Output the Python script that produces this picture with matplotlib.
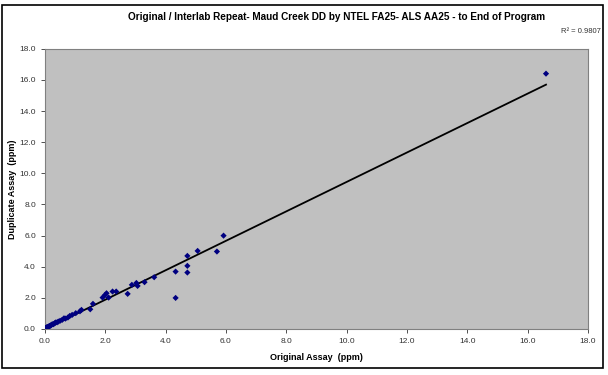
import numpy as np
import matplotlib
matplotlib.use('Agg')
import matplotlib.pyplot as plt
from matplotlib.patches import Rectangle
from matplotlib.ticker import FormatStrFormatter, MultipleLocator

plt.rcParams['font.family'] = ['Liberation Sans', 'DejaVu Sans']

# original vs duplicate assays (ppm)
original = [0.02, 0.03, 0.05, 0.06, 0.08, 0.10, 0.12, 0.15, 0.18, 0.20, 0.24,
            0.28, 0.32, 0.35, 0.40, 0.44, 0.50, 0.57, 0.63, 0.68, 0.76, 0.82,
            0.90, 1.02, 1.16, 1.21, 1.50, 1.59, 1.91, 1.98, 2.04, 2.11, 2.24,
            2.36, 2.74, 2.88, 3.03, 3.07, 3.30, 3.62, 4.33, 4.33, 4.72, 4.72,
            4.72, 5.06, 5.70, 5.92, 16.61]
duplicate = [0.03, 0.05, 0.08, 0.10, 0.11, 0.12, 0.15, 0.19, 0.20, 0.24, 0.30,
             0.30, 0.36, 0.41, 0.42, 0.47, 0.52, 0.58, 0.68, 0.66, 0.73, 0.83,
             0.90, 1.01, 1.13, 1.22, 1.26, 1.61, 2.01, 2.16, 2.29, 2.01, 2.40,
             2.40, 2.25, 2.83, 2.95, 2.76, 3.00, 3.32, 3.68, 1.99, 4.69, 4.05,
             3.62, 5.01, 4.97, 5.99, 16.40]
r2_label = "R² = 0.9807"

x = np.array(original)
y = np.array(duplicate)
slope, intercept = np.polyfit(x, y, 1)
xf = np.array([x.min(), x.max()])

fig = plt.figure(figsize=(6.08, 3.75), dpi=100)
fig.patches.append(Rectangle((0.003, 0.018), 0.988, 0.968, transform=fig.transFigure,
                             fill=False, edgecolor='black', linewidth=1.2))

ax = fig.add_axes([0.074, 0.123, 0.893, 0.747])
ax.set_facecolor('#c0c0c0')
ax.plot(xf, slope * xf + intercept, color='black', linewidth=1.3, zorder=2)
ax.scatter(x, y, marker='D', s=10, color='#000080', edgecolors='none', zorder=3)

ax.set_xlim(0, 18)
ax.set_ylim(0, 18)
ax.xaxis.set_major_locator(MultipleLocator(2))
ax.yaxis.set_major_locator(MultipleLocator(2))
ax.xaxis.set_major_formatter(FormatStrFormatter('%.1f'))
ax.yaxis.set_major_formatter(FormatStrFormatter('%.1f'))
ax.tick_params(labelsize=6, colors='#333333', length=3, width=0.6)
for s in ax.spines.values():
    s.set_color('#808080')
    s.set_linewidth(0.8)

ax.set_xlabel("Original Assay  (ppm)", fontsize=6.5, fontweight='bold', labelpad=6)
ax.set_ylabel("Duplicate Assay  (ppm)", fontsize=6.5, fontweight='bold', labelpad=2)

fig.text(0.553, 0.955, "Original / Interlab Repeat- Maud Creek DD by NTEL FA25- ALS AA25 - to End of Program",
         ha='center', va='center', fontsize=7.2, fontweight='bold')
fig.text(0.988, 0.915, r2_label, ha='right', va='center', fontsize=5.5, color='#333333')

fig.savefig('out.png', dpi=100)
